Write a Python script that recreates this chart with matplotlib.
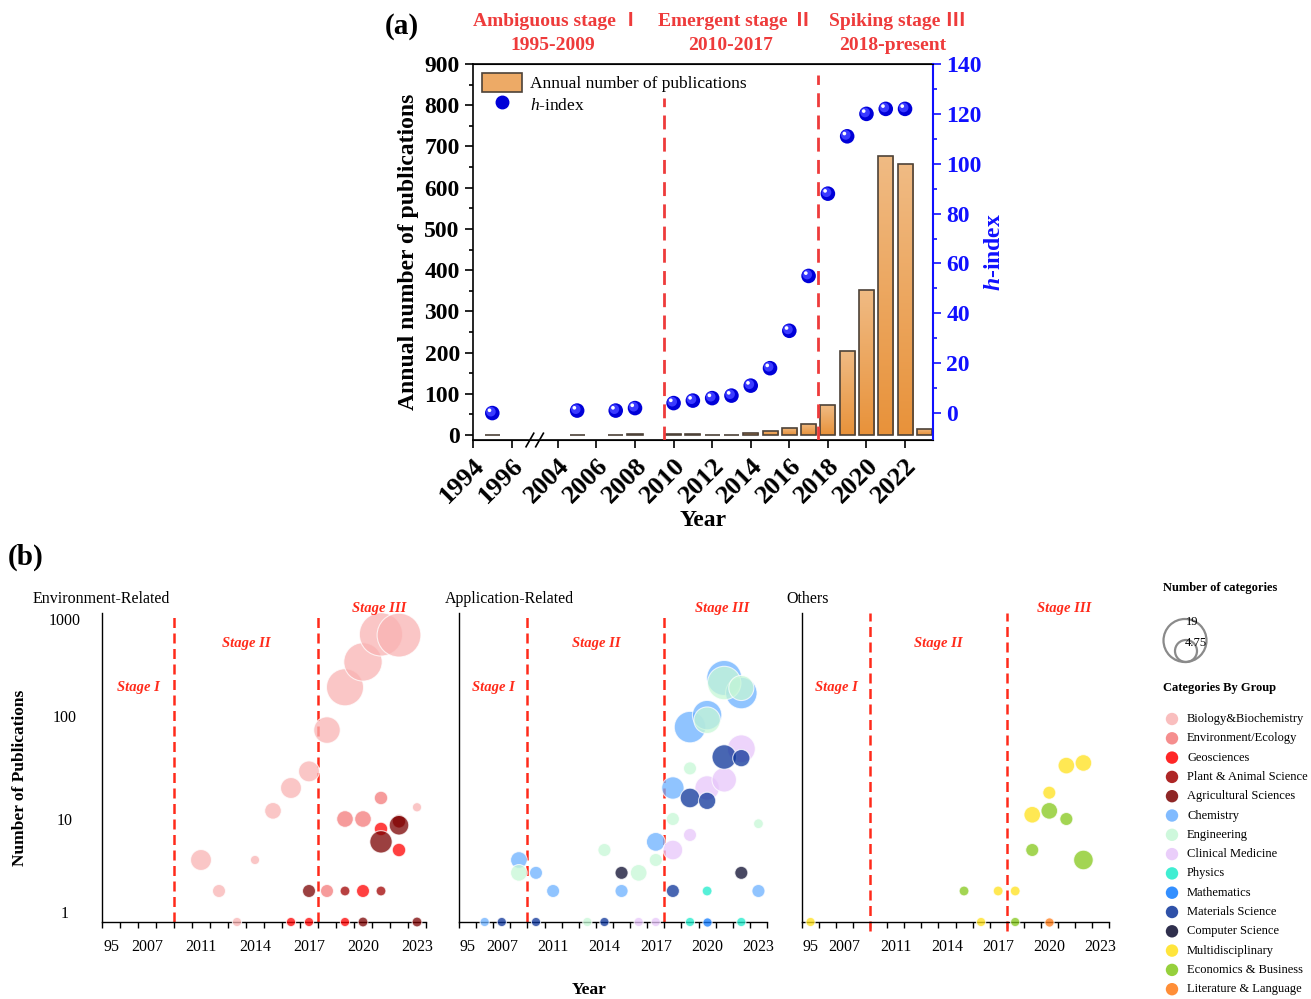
import numpy as np
import matplotlib
matplotlib.use('Agg')
import matplotlib.pyplot as plt
from matplotlib.patches import Patch, Circle
from matplotlib.lines import Line2D
from matplotlib import transforms
from matplotlib.colors import LinearSegmentedColormap

plt.rcParams['font.family'] = ['Liberation Serif', 'DejaVu Serif']
plt.rcParams['mathtext.fontset'] = 'custom'
plt.rcParams['mathtext.rm'] = 'Liberation Serif'
plt.rcParams['mathtext.it'] = 'Liberation Serif:italic'
plt.rcParams['mathtext.bf'] = 'Liberation Serif:bold'
plt.rcParams['mathtext.bfit'] = 'Liberation Serif:bold:italic'

# ---------------- data: panel (a)
years = [1995, 2005, 2007, 2008, 2010, 2011, 2012, 2013, 2014, 2015,
         2016, 2017, 2018, 2019, 2020, 2021, 2022, 2023]
pubs = [1, 1, 1, 3, 3, 3, 1, 1, 5, 10, 17, 27, 72, 203, 352, 678, 657, 15]
hindex = [0, 1, 1, 2, 4, 5, 6, 7, 11, 18, 33, 55, 88, 111, 120, 122, 122, np.nan]
year_ticks = [1994, 1996, 2004, 2006, 2008, 2010, 2012, 2014, 2016, 2018, 2020, 2022]

# ---------------- data: panel (b)
categories = ['Biology&Biochemistry', 'Environment/Ecology', 'Geosciences',
              'Plant & Animal Science', 'Agricultural Sciences', 'Chemistry',
              'Engineering', 'Clinical Medicine', 'Physics', 'Mathematics',
              'Materials Science', 'Computer Science', 'Multidisciplinary',
              'Economics & Business', 'Literature & Language']
cat_colors = ['#F9B3B3', '#F47A7A', '#FF0000', '#A00000', '#7A0000', '#6BB0FF',
              '#C6F7D6', '#E7C6FA', '#1EEBCB', '#0F7BFF', '#0A3399', '#0A0A2E',
              '#FFE11A', '#84C81A', '#FF7A14']
b_label_idx = [0, 2, 5, 8, 11, 14, 17]
b_labels = ['95', '2007', '2011', '2014', '2017', '2020', '2023']

env_cat = ['Biology&Biochemistry'] * 13 + ['Environment/Ecology'] * 4 + ['Geosciences'] * 6 \
    + ['Plant & Animal Science'] * 3 + ['Agricultural Sciences'] * 5
env_year = [2011, 2012, 2013, 2014, 2015, 2016, 2017, 2018, 2019, 2020, 2021, 2022, 2023,
            2018, 2019, 2020, 2021,
            2016, 2017, 2019, 2020, 2021, 2022,
            2019, 2021, 2022,
            2017, 2020, 2023, 2021, 2022]
env_pubs = [4, 2, 1, 4, 12, 20, 29, 73, 190, 335, 620, 610, 13,
            2, 10, 10, 16,
            1, 1, 1, 2, 8, 5,
            2, 2, 9.5,
            2, 1, 1, 6, 8.7]
env_ncat = [4.1, 1.6, 0.8, 0.8, 2.6, 4.1, 4.1, 6.6, 12.9, 13.8, 17.6, 18.0, 0.8,
            1.6, 2.6, 2.6, 1.7,
            0.8, 0.8, 0.8, 1.6, 1.7, 1.7,
            0.9, 0.9, 1.7,
            1.6, 0.9, 0.9, 4.7, 3.6]

app_cat = ['Chemistry'] * 12 + ['Engineering'] * 11 + ['Clinical Medicine'] * 7 \
    + ['Physics'] * 3 + ['Mathematics'] + ['Materials Science'] * 8 + ['Computer Science'] * 2
app_year = [2005, 2008, 2010, 2011, 2015, 2017, 2018, 2019, 2020, 2021, 2022, 2023,
            2008, 2013, 2014, 2016, 2017, 2018, 2019, 2020, 2021, 2022, 2023,
            2016, 2017, 2018, 2019, 2020, 2021, 2022,
            2019, 2020, 2022,
            2020,
            2007, 2010, 2014, 2018, 2019, 2020, 2021, 2022,
            2015, 2022]
app_pubs = [1, 4, 3, 2, 2, 6, 20, 78, 102, 234, 167, 2,
            3, 1, 5, 3, 4, 10, 31, 91, 209, 187, 9,
            1, 1, 5, 7, 20, 24, 48,
            1, 2, 1,
            1,
            1, 1, 1, 2, 16, 15, 40, 39,
            3, 3]
app_ncat = [0.8, 2.6, 1.6, 1.6, 1.6, 3.3, 4.7, 9.3, 8.1, 11.5, 9.3, 1.6,
            2.6, 0.8, 1.6, 2.6, 1.6, 1.6, 1.6, 6.6, 10.5, 5.9, 0.9,
            0.8, 0.8, 3.6, 1.6, 5.6, 5.6, 7.3,
            0.8, 0.9, 0.8,
            0.8,
            0.8, 0.8, 0.8, 1.6, 3.6, 2.8, 5.6, 2.8,
            1.6, 1.6]

oth_cat = ['Multidisciplinary'] * 8 + ['Economics & Business'] * 6 + ['Literature & Language']
oth_year = [1995, 2016, 2017, 2018, 2019, 2020, 2021, 2022,
            2015, 2018, 2019, 2020, 2021, 2022,
            2020]
oth_pubs = [1, 1, 2, 2, 11, 18, 33, 35,
            2, 1, 5, 12, 10, 4,
            1]
oth_ncat = [0.8, 0.8, 0.9, 0.9, 2.6, 1.6, 2.6, 2.6,
            0.9, 0.8, 1.6, 2.6, 1.6, 3.6,
            0.8]


def xpos(y):
    # broken axis: 1994-1996 then 2004 onwards
    return y - 1994 if y < 2000 else y - 2004 + 4.4


def bubble_s(n):
    r_px = 22.5 * np.sqrt(np.asarray(n) / 19.0)
    return (2 * r_px * 0.72) ** 2


def fx(px):
    return px / 1311


def fy(py):
    return 1 - py / 999


fig = plt.figure(figsize=(13.11, 9.99), dpi=100)
fig.patch.set_facecolor('white')

# ======================= panel (a)
ax = fig.add_axes([fx(473), fy(440), (933 - 473) / 1311, (440 - 64) / 999])
ax2 = ax.twinx()

xs = [xpos(y) for y in years]
bars = ax.bar(xs, pubs, width=0.78, facecolor='none', edgecolor='#4d4238', linewidth=1.2, zorder=3)
grad = np.linspace(0, 1, 256).reshape(-1, 1)
cmap = LinearSegmentedColormap.from_list('bar', ['#E8923A', '#F0BB84'])
for b in bars:
    x0, y0, w, h = b.get_x(), b.get_y(), b.get_width(), b.get_height()
    im = ax.imshow(grad, extent=[x0, x0 + w, y0, y0 + h], origin='lower', cmap=cmap,
                   aspect='auto', zorder=2)
    im.set_clip_path(b)

ax.set_xlim(0, 23.85)
ax.set_ylim(-12, 900)
ax.set_yticks(np.arange(0, 901, 100))
ax.set_yticks(np.arange(50, 900, 100), minor=True)
ax.set_xticks([xpos(y) for y in year_ticks])
ax.set_xticklabels([str(y) for y in year_ticks], rotation=45, ha='right',
                   rotation_mode='anchor', fontsize=19, fontweight='bold')
for lab in ax.get_yticklabels():
    lab.set_fontweight('bold')
    lab.set_fontsize(17)
ax.tick_params(axis='both', which='major', direction='out', length=6, width=1.2)
ax.tick_params(axis='y', which='minor', direction='out', length=3, width=1.2)
ax.tick_params(axis='x', pad=4)
ax.spines['right'].set_visible(False)
for s in ['left', 'top', 'bottom']:
    ax.spines[s].set_linewidth(1.2)
ax.set_ylabel('Annual number of publications', fontsize=17, fontweight='bold', labelpad=4)
ax.set_xlabel('Year', fontsize=17, fontweight='bold', labelpad=2)

# break marks on x axis
tb = transforms.blended_transform_factory(ax.transData, ax.transAxes)
ax.plot([2.95, 3.45], [-0.004, -0.004], color='white', lw=3, transform=tb, clip_on=False, zorder=6)
for xb in [2.95, 3.45]:
    ax.plot([xb - 0.2, xb + 0.2], [-0.018, 0.018], color='black', lw=1.2, transform=tb,
            clip_on=False, zorder=7)

# stage separators
ax.axvline(xpos(2009.5), ymin=0, ymax=0.91, color='#EE3B3B', lw=2, ls=(0, (5, 3)), zorder=4)
ax.axvline(xpos(2017.5), ymin=0, ymax=0.97, color='#EE3B3B', lw=2, ls=(0, (5, 3)), zorder=4)

# h-index spheres
ax2.set_ylim(-10.8, 140)
ax2.set_yticks(np.arange(0, 141, 20))
ax2.set_yticks(np.arange(10, 140, 20), minor=True)
hx = np.array(xs)
hy = np.array(hindex, dtype=float)
ax2.scatter(hx, hy, s=110, color='#0000D8', edgecolors='none', zorder=5)
off1 = transforms.offset_copy(ax2.transData, fig=fig, x=-1.0, y=1.0, units='points')
off2 = transforms.offset_copy(ax2.transData, fig=fig, x=-2.0, y=2.0, units='points')
ax2.scatter(hx, hy, s=48, color='#3a3aff', edgecolors='none', zorder=6, transform=off1)
ax2.scatter(hx, hy, s=7, color='white', edgecolors='none', zorder=7, transform=off2)
ax2.spines['right'].set_color('#1010FF')
ax2.spines['right'].set_linewidth(1.5)
ax2.spines['left'].set_visible(False)
ax2.tick_params(axis='y', which='major', colors='#1010FF', direction='out', length=6, width=1.2)
ax2.tick_params(axis='y', which='minor', colors='#1010FF', direction='out', length=3, width=1.2)
for lab in ax2.get_yticklabels():
    lab.set_fontweight('bold')
    lab.set_fontsize(17)
ax2.set_ylabel(r'$\mathbfit{h}$-index', fontsize=17, fontweight='bold', color='#1010FF', labelpad=2)

leg_handles = [Patch(facecolor='#EDAA66', edgecolor='#4d4238', linewidth=1.2),
               Line2D([], [], marker='o', ls='none', color='#0000D8', markersize=9)]
ax.legend(leg_handles, ['Annual number of publications', r'$h$-index'], loc='upper left',
          frameon=False, fontsize=12.5, handlelength=2.3, handleheight=1.3,
          borderaxespad=0.1, labelspacing=0.15, handletextpad=0.5)

# stage titles; roman numerals drawn in a CJK face for the wide glyph
red_t = '#EE3B3B'
renderer = fig.canvas.get_renderer()
for cx, t1, num, t2 in [(557, 'Ambiguous stage ', 'Ⅰ', '1995-2009'),
                        (735, 'Emergent stage ', 'Ⅱ', '2010-2017'),
                        (897, 'Spiking stage ', 'Ⅲ', '2018-present')]:
    ta = fig.text(0, fy(21), t1, ha='left', va='center', color=red_t, fontsize=14,
                  fontweight='bold')
    tn = fig.text(0, fy(21), num, ha='left', va='center', color=red_t, fontsize=14,
                  fontweight='bold', family=['Noto Sans CJK SC', 'DejaVu Sans'])
    wa = ta.get_window_extent(renderer).width
    wn = tn.get_window_extent(renderer).width
    x_start = cx - (wa + wn) / 2
    ta.set_x(fx(x_start))
    tn.set_x(fx(x_start + wa))
    fig.text(fx(cx - 4), fy(46), t2, ha='center', va='center', color=red_t, fontsize=14,
             fontweight='bold')
fig.text(fx(402), fy(27), '(a)', ha='center', va='center', fontsize=21, fontweight='bold')
fig.text(fx(26), fy(557), '(b)', ha='center', va='center', fontsize=21, fontweight='bold')

# ======================= panel (b)
col_of = dict(zip(categories, cat_colors))
b_bottom, b_height = fy(922), (922 - 613) / 999
panels = [
    ([fx(102), b_bottom, 324 / 1311, b_height], env_cat, env_year, env_pubs, env_ncat, 'Environment-Related', 33),
    ([fx(459), b_bottom, 308 / 1311, b_height], app_cat, app_year, app_pubs, app_ncat, 'Application-Related', 445),
    ([fx(802), b_bottom, 307 / 1311, b_height], oth_cat, oth_year, oth_pubs, oth_ncat, 'Others', 786),
]
for k, (rect, cat, yr, pb, nc, title, tx) in enumerate(panels):
    bx = fig.add_axes(rect)
    bx.set_yscale('log')
    bx.set_ylim(1, 1000)
    bx.set_xlim(-0.5, 17.5)
    for c in categories:
        idx = [i for i, cc in enumerate(cat) if cc == c]
        if not idx:
            continue
        px = [years.index(yr[i]) for i in idx]
        py = [pb[i] for i in idx]
        ps = bubble_s([nc[i] for i in idx])
        bx.scatter(px, py, s=ps, color=col_of[c], alpha=0.75, edgecolors='white',
                   linewidths=0.8, zorder=3, clip_on=False)
    bx.set_xticks(np.arange(-0.5, 18, 1))
    bx.set_xticklabels([])
    bx.set_xticks(b_label_idx, minor=True)
    bx.set_xticklabels(b_labels, minor=True, fontsize=11.5)
    bx.tick_params(axis='x', which='major', direction='out', length=4, width=1)
    bx.tick_params(axis='x', which='minor', length=0, pad=12)
    bx.set_yticks([1, 10, 100, 1000])
    bx.yaxis.set_minor_locator(plt.NullLocator())
    if k == 0:
        bx.set_yticklabels(['1', '10', '100', '1000'], fontsize=11.5)
        bx.tick_params(axis='y', length=0, pad=27)
        labs = bx.get_yticklabels()
        for lab in labs:
            lab.set_ha('center')
        labs[0].set_va('bottom')
        labs[-1].set_va('top')
    else:
        bx.set_yticklabels([])
        bx.tick_params(axis='y', length=0)
    for s in ['top', 'right']:
        bx.spines[s].set_visible(False)
    for s in ['left', 'bottom']:
        bx.spines[s].set_linewidth(1.0)
    lo = -0.03 if k == 2 else 0
    for xv in [3.5, 11.5]:
        bx.axvline(xv, ymin=lo, ymax=1, color='#FF2A1A', lw=1.8, ls=(0, (4, 2.2)), zorder=2,
                   clip_on=False)
    tr = transforms.blended_transform_factory(bx.transData, bx.transAxes)
    for sx, sy, st in [(1.5, 0.76, 'Stage I'), (7.5, 0.90, 'Stage II'), (14.9, 1.015, 'Stage III')]:
        bx.text(sx, sy, st, transform=tr, ha='center', va='center', color='#FF2A1A',
                fontsize=10.5, fontweight='bold', fontstyle='italic')
    fig.text(fx(tx), fy(599), title, ha='left', va='center', fontsize=11.5)

fig.text(fx(20), fy(778), 'Number of Publications', rotation=90, ha='center', va='center',
         fontsize=12.5, fontweight='bold')
fig.text(fx(589), fy(990), 'Year', ha='center', va='center', fontsize=12.5, fontweight='bold')

# ---------------- legend for panel (b)
lax = fig.add_axes([0, 0, 1, 1], zorder=-1)
lax.set_xlim(0, 1311)
lax.set_ylim(999, 0)
lax.axis('off')
fig.text(fx(1163), fy(588), 'Number of categories', ha='left', va='center', fontsize=9,
         fontweight='bold')
lax.add_patch(Circle((1185, 640.5), 21.5, fill=False, edgecolor='#8a8a8a', lw=1.6))
lax.add_patch(Circle((1186, 651), 11, fill=False, edgecolor='#8a8a8a', lw=1.6))
fig.text(fx(1192), fy(622), '19', ha='center', va='center', fontsize=9)
fig.text(fx(1196), fy(643), '4.75', ha='center', va='center', fontsize=9)
fig.text(fx(1163), fy(688), 'Categories By Group', ha='left', va='center', fontsize=9,
         fontweight='bold')
for i, (c, col) in enumerate(zip(categories, cat_colors)):
    yy = 719 + i * 19.3
    lax.scatter([1172], [yy], s=80, color=col, alpha=0.85, edgecolors='none')
    fig.text(fx(1187), fy(yy), c, ha='left', va='center', fontsize=9)

fig.savefig('out.png', dpi=100, facecolor='white')
